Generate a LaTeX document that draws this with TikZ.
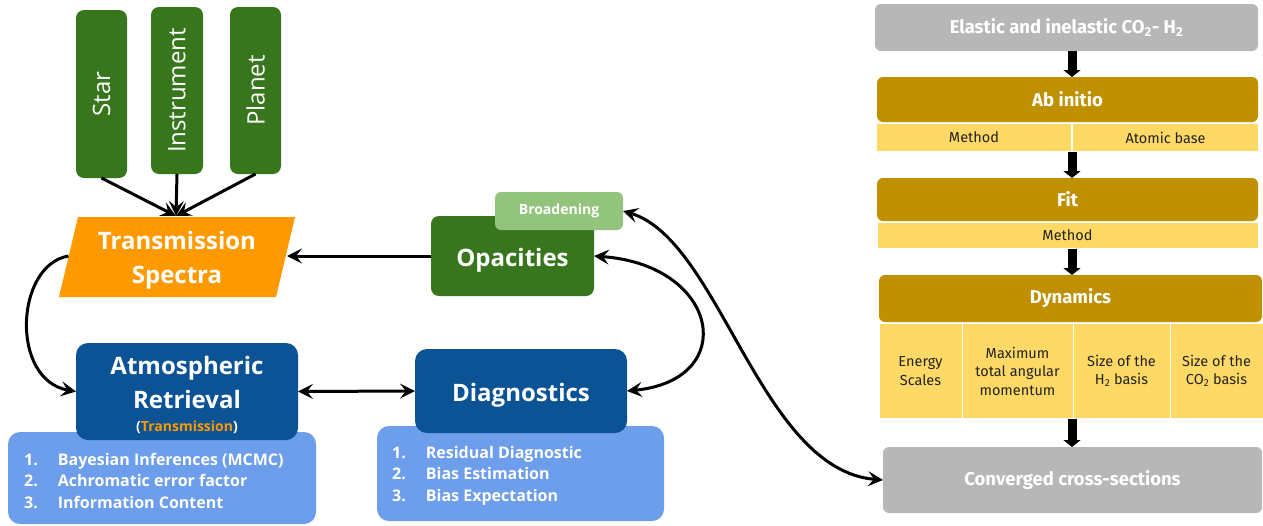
\documentclass[tikz,border=0pt]{standalone}
\usepackage{fontspec}
\setmainfont{Open Sans}
\newfontfamily\rf{Fira Sans}
\usetikzlibrary{arrows.meta,calc}
\definecolor{dgreen}{HTML}{38761D}
\definecolor{lgreen}{HTML}{93C47D}
\definecolor{orng}{HTML}{FF9900}
\definecolor{dblue}{HTML}{0B5394}
\definecolor{lblue}{HTML}{6D9EEB}
\definecolor{gry}{HTML}{B7B7B7}
\definecolor{gold}{HTML}{BF9000}
\definecolor{lyel}{HTML}{FFD966}
\definecolor{dtext}{HTML}{222222}
\begin{document}
\begin{tikzpicture}[x=1pt,y=-1pt,
  box/.style={inner sep=0pt,outer sep=0pt,rectangle,align=center},
  gbox/.style={box,fill=dgreen,rounded corners=8pt,text=white},
  bbox/.style={box,fill=dblue,rounded corners=12pt,text=white},
  lbox/.style={box,fill=lblue,rounded corners=12pt},
  bigtext/.style={inner sep=0pt,text=white,align=center,font=\bfseries\fontsize{24}{34}\selectfont},
  listtext/.style={inner sep=0pt,anchor=north west,text=white,font=\bfseries\fontsize{16}{21.5}\selectfont},
  hdr/.style={box,fill=gold,rounded corners=6pt,text=white,font=\rf\bfseries\fontsize{18.5}{22}\selectfont},
  sub/.style={box,fill=lyel,draw=white,line width=1pt,text=dtext,font=\rf\fontsize{14.5}{18.5}\selectfont},
  gray box/.style={box,fill=gry,rounded corners=6pt,text=white,font=\rf\bfseries\fontsize{18.5}{22}\selectfont},
  arr/.style={line width=3pt,-{Stealth[length=15pt,width=15pt,inset=6pt]}},
  darr/.style={line width=3pt,{Stealth[length=15pt,width=15pt,inset=6pt]}-{Stealth[length=15pt,width=15pt,inset=6pt]}},
  fat/.style={line width=9pt,-{Triangle[length=7pt,width=17pt]}}]
\useasboundingbox (0,0) rectangle (1263,525);

% ---------- left: inputs ----------
\node[gbox,minimum width=51pt,minimum height=168pt] (star) at (101.5,94) {};
\node[rotate=90,text=white,font=\fontsize{24}{28}\selectfont] at (star.center) {Star};
\node[gbox,minimum width=52pt,minimum height=167pt] (instr) at (177,90.5) {};
\node[rotate=90,text=white,font=\fontsize{24}{28}\selectfont] at (instr.center) {Instrument};
\node[gbox,minimum width=51pt,minimum height=167pt] (planet) at (255.5,90.5) {};
\node[rotate=90,text=white,font=\fontsize{24}{28}\selectfont] at (planet.center) {Planet};

% transmission spectra parallelogram
\fill[orng] (78,217) -- (295,217) -- (276,297) -- (59,297) -- cycle;
\node[bigtext] (ts) at (177,260) {Transmission\\Spectra};
\coordinate (tsTop) at (176,216);
\coordinate (tsRight) at (287,256);
\coordinate (tsLeft) at (68.5,256);

\draw[arr] (star.south) -- (tsTop);
\draw[arr] (instr.south) -- (tsTop);
\draw[arr] (planet.south) -- (tsTop);

% opacities
\node[gbox,minimum width=163pt,minimum height=80pt] (opac) at (512.5,256) {};
\node[bigtext] at (512.5,260) {Opacities};
\node[box,fill=lgreen,rounded corners=6pt,minimum width=128pt,minimum height=38pt,text=white,font=\bfseries\fontsize{14}{18}\selectfont] (broad) at (559,211) {Broadening};
\draw[arr] (opac.west) -- (tsRight);

% atmospheric retrieval
\node[lbox,minimum width=308pt,minimum height=92pt] (atmlist) at (162,478) {};
\node[bbox,minimum width=222pt,minimum height=97pt] (atm) at (187,391.5) {};
\node[bigtext] at (187,382) {Atmospheric\\Retrieval};
\node[inner sep=0pt,text=white,font=\bfseries\fontsize{14}{16}\selectfont] at (187,427) {(\textcolor{orng}{Transmission})};
\node[listtext] (atmtxt) at (24,450) {\begin{tabular}{@{}l@{\hspace{20pt}}l@{}}1. & Bayesian Inferences (MCMC)\\2. & Achromatic error factor\\3. & Information Content\end{tabular}};

% diagnostics
\node[lbox,minimum width=287pt,minimum height=95pt] (diaglist) at (520.5,473.5) {};
\node[bbox,minimum width=212pt,minimum height=84pt] (diag) at (521,391) {};
\node[bigtext] at (521,395) {Diagnostics};
\node[listtext] (diagtxt) at (392,443) {\begin{tabular}{@{}l@{\hspace{20pt}}l@{}}1. & Residual Diagnostic\\2. & Bias Estimation\\3. & Bias Expectation\end{tabular}};

% connectors
\draw[arr] (tsLeft) .. controls (15,265) and (10,380) .. (atm.west);
\draw[darr] (atm.east) -- (diag.west);
\draw[darr] (opac.east) .. controls (720,265) and (740,380) .. (diag.east);

% ---------- right column ----------
\coordinate (axis) at (1072,0);
\node[gray box,minimum width=383pt,minimum height=47pt] (elastic) at (1066.5,27.5) {Elastic and inelastic CO\textsubscript{2}- H\textsubscript{2}};
\node[hdr,minimum width=381pt,minimum height=45pt] (abinit) at (1067.5,99.5) {Ab initio};
\node[sub,minimum width=195pt,minimum height=28pt] (m1) at (974,137.5) {Method};
\node[sub,minimum width=186pt,minimum height=28pt] (atomic) at (1165.5,137.5) {Atomic base};
\node[hdr,minimum width=381pt,minimum height=43pt] (fit) at (1067.5,199.5) {Fit};
\node[sub,minimum width=381pt,minimum height=26pt] (m2) at (1067.5,235.5) {Method};
\node[hdr,minimum width=383pt,minimum height=47pt] (dyn) at (1070.5,298.5) {Dynamics};
\node[sub,minimum width=83pt,minimum height=95pt] (energy) at (920.5,371) {Energy\\Scales};
\node[sub,minimum width=111pt,minimum height=95pt] (maxj) at (1017.5,371) {Maximum\\total angular\\momentum};
\node[sub,minimum width=97pt,minimum height=95pt] (h2) at (1121.5,371) {Size of the\\H\textsubscript{2} basis};
\node[sub,minimum width=93pt,minimum height=95pt] (co2) at (1216.5,371) {Size of the\\CO\textsubscript{2} basis};
\node[gray box,minimum width=379pt,minimum height=66pt] (conv) at (1072.5,480) {Converged cross-sections};

\draw[fat] (elastic.south -| axis) -- (abinit.north -| axis);
\draw[fat] (m1.south -| axis) -- (fit.north -| axis);
\draw[fat] (m2.south -| axis) -- (dyn.north -| axis);
\draw[fat] (maxj.south -| axis) -- (conv.north -| axis);

\draw[darr] (broad.east) .. controls (720,240) and (760,470) .. (conv.west);
\end{tikzpicture}
\end{document}
